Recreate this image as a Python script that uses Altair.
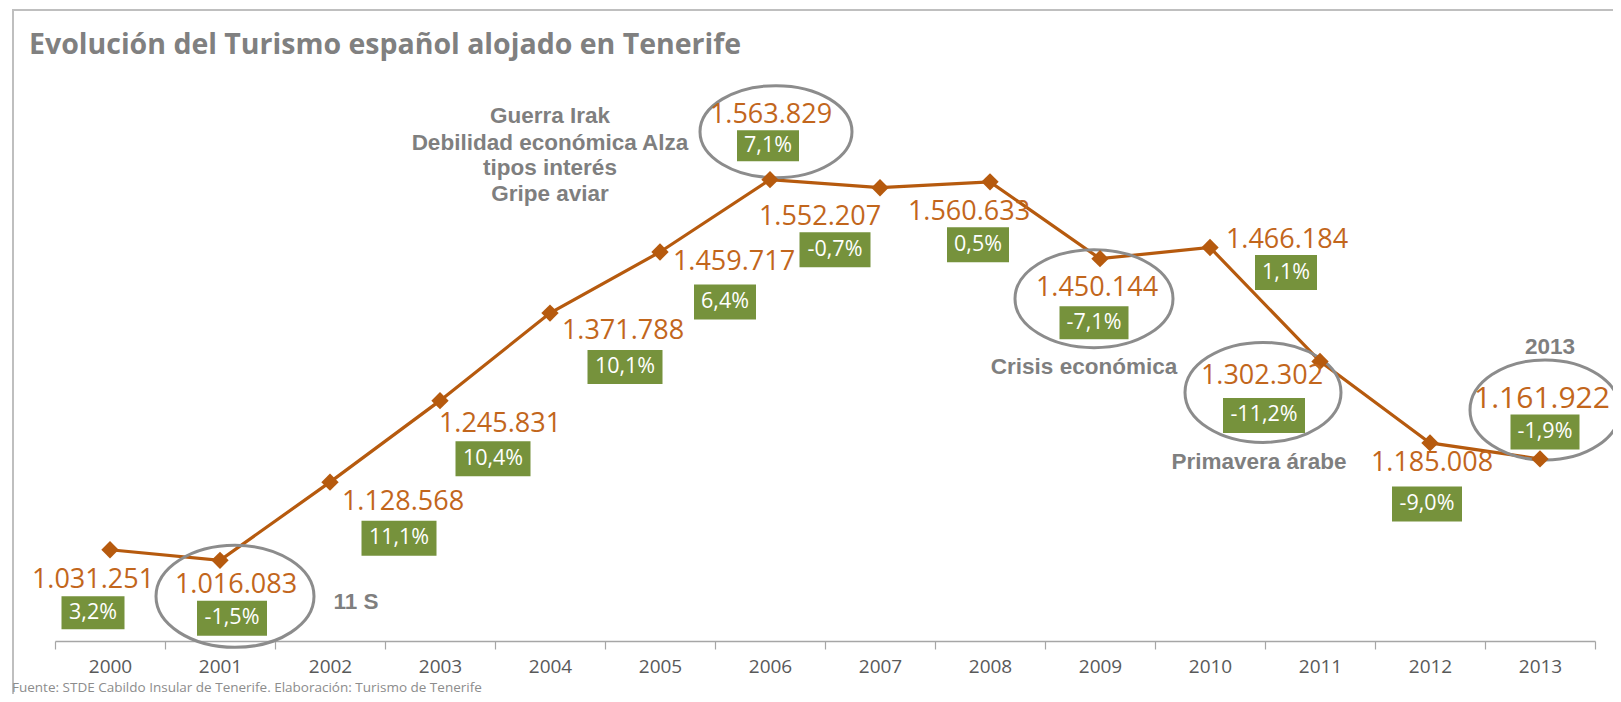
import altair as alt
import pandas as pd

# ---------------- data ----------------
years = [str(y) for y in range(2000, 2014)]
tourists = [1031251, 1016083, 1128568, 1245831, 1371788, 1459717, 1563829,
            1552207, 1560633, 1450144, 1466184, 1302302, 1185008, 1161922]
tourist_labels = ["1.031.251", "1.016.083", "1.128.568", "1.245.831", "1.371.788",
                  "1.459.717", "1.563.829", "1.552.207", "1.560.633", "1.450.144",
                  "1.466.184", "1.302.302", "1.185.008", "1.161.922"]
growth_labels = ["3,2%", "-1,5%", "11,1%", "10,4%", "10,1%", "6,4%", "7,1%",
                 "-0,7%", "0,5%", "-7,1%", "1,1%", "-11,2%", "-9,0%", "-1,9%"]

# annotations (text + the year they refer to)
note_texts = ["Guerra Irak", "Debilidad económica Alza", "tipos interés", "Gripe aviar",
              "11 S", "Crisis económica", "Primavera árabe", "2013"]
note_years = ["2006", "2006", "2006", "2006", "2001", "2009", "2011", "2013"]
circled_years = ["2001", "2006", "2009", "2011", "2013"]

# ---------------- layout (pixel offsets from each point) ----------------
num_dx = [-17, 16, 73, 60, 73, 74, 1, -60, -21, -3, 77, -58, 2, 2]
num_dy = [30, 25, 20, 23, 18, 10, -65, 29, 30, 29, -8, 15, 20, -60]
num_fs = [27] * 13 + [30]
box_dx = [-17, 12, 69, 53, 75, 65, -2, -45, -12, -6, 76, -56, -3, 5]
box_dy = [63, 58, 56, 58, 54, 50, -34, 62, 63, 64, 25, 54, 61, -27]
box_w = [63, 70, 75, 75, 75, 62, 62, 71, 62, 69, 62, 82, 70, 69]
box_h = [33, 35, 35, 35, 34, 35, 31, 35, 35, 33, 35, 35, 35, 35]
note_dx = [-220, -220, -220, -220, 136, -16, -61, 10]
note_dy = [-64, -37, -12, 14, 42, 108, 101, -112]
ell_dx = [15, 6, -6, -57, 5]
ell_dy = [36, -48, 40, 31, -49]
ell_rx = [79, 76, 79, 78, 75]
ell_ry = [51, 46, 49, 50, 50]

LINE = "#B65A0E"
ORANGE = "#C2661C"
GREEN = "#76923C"
GRAY = "#7F7F7F"


def box_path(w, h):
    a = h / w
    return f"M-1,{-a:.4f} L1,{-a:.4f} L1,{a:.4f} L-1,{a:.4f} Z"


def ellipse_path(rx, ry):
    k = 0.5523
    r = ry / rx
    return (f"M1,0 C1,{k*r:.4f} {k:.4f},{r:.4f} 0,{r:.4f} "
            f"C{-k:.4f},{r:.4f} -1,{k*r:.4f} -1,0 "
            f"C-1,{-k*r:.4f} {-k:.4f},{-r:.4f} 0,{-r:.4f} "
            f"C{k:.4f},{-r:.4f} 1,{-k*r:.4f} 1,0 Z")


def at(dxcol, dycol):
    """Position = the point's own scaled position plus a pixel offset."""
    return dict(
        x=alt.value({"expr": f"scale('x', datum.year) + bandwidth('x') / 2 + datum.{dxcol}"}),
        y=alt.value({"expr": f"scale('y', datum.value) + datum.{dycol}"}),
    )


val_by_year = dict(zip(years, tourists))

df = pd.DataFrame({
    "year": years, "value": tourists, "num": tourist_labels, "pct": growth_labels,
    "ndx": num_dx, "ndy": num_dy, "nfs": num_fs,
    "bdx": box_dx, "bdy": box_dy,
    "bshape": [box_path(w, h) for w, h in zip(box_w, box_h)],
    "bsize": [w * w for w in box_w],
})

notes = pd.DataFrame({
    "year": note_years, "value": [val_by_year[y] for y in note_years],
    "text": note_texts, "dx": note_dx, "dy": note_dy,
})

ells = pd.DataFrame({
    "year": circled_years, "value": [val_by_year[y] for y in circled_years],
    "dx": ell_dx, "dy": ell_dy,
    "shape": [ellipse_path(rx, ry) for rx, ry in zip(ell_rx, ell_ry)],
    "size": [(2 * rx) ** 2 for rx in ell_rx],
})

X = alt.X("year:N", sort=years, title=None,
          scale=alt.Scale(type="band", paddingInner=0, paddingOuter=0),
          axis=alt.Axis(labelAngle=0, tickBand="extent", tickSize=8,
                        labelFont="Open Sans", labelFontSize=19, labelColor="#595959",
                        labelPadding=8, domainColor="#A6A6A6", tickColor="#A6A6A6",
                        domainWidth=1.5, tickWidth=1.2, grid=False))
Y = alt.Y("value:Q", title=None, axis=None,
          scale=alt.Scale(domain=[900000, 1700000], zero=False, nice=False))

base = alt.Chart(df)

line = base.mark_line(color=LINE, strokeWidth=3.2).encode(x=X, y=Y)
pts = base.mark_point(shape="diamond", filled=True, size=300, color=LINE,
                      opacity=1).encode(x=X, y=Y)

ellipses = alt.Chart(ells).mark_point(filled=False, stroke="#8C8C8C", strokeWidth=3,
                                      opacity=1).encode(
    **at("dx", "dy"),
    shape=alt.Shape("shape:N", scale=None),
    size=alt.Size("size:Q", scale=None),
)

num_text = base.mark_text(font="Open Sans", color=ORANGE, baseline="middle",
                          align="center").encode(
    **at("ndx", "ndy"),
    size=alt.Size("nfs:Q", scale=None),
    text="num:N",
)

boxes = base.mark_point(filled=True, fill=GREEN, strokeWidth=0, opacity=1).encode(
    **at("bdx", "bdy"),
    shape=alt.Shape("bshape:N", scale=None),
    size=alt.Size("bsize:Q", scale=None),
)

pct_text = base.mark_text(font="Open Sans", fontSize=21.5, color="white",
                          baseline="middle", align="center").encode(
    **at("bdx", "bdy"),
    text="pct:N",
)

note_text = alt.Chart(notes).mark_text(font="Liberation Sans", fontWeight="bold",
                                       fontSize=22.5, color=GRAY, baseline="middle",
                                       align="center").encode(
    **at("dx", "dy"),
    text="text:N",
)

one = pd.DataFrame({"a": [0]})
frame = alt.Chart(one).mark_rect(fillOpacity=0, stroke="#BFBFBF", strokeWidth=2).encode(
    x=alt.value(-42), x2=alt.value(1640), y=alt.value(-75), y2=alt.value(720))

title = alt.Chart(one).mark_text(
    text="Evolución del Turismo español alojado en Tenerife",
    font="Open Sans", fontWeight="bold", fontSize=28.5, color="#808080",
    align="left", baseline="alphabetic").encode(x=alt.value(-26), y=alt.value(-31))

source = alt.Chart(one).mark_text(
    text="Fuente: STDE Cabildo Insular de Tenerife. Elaboración: Turismo de Tenerife",
    font="Open Sans", fontSize=13.5, color="#8C8C8C",
    align="left", baseline="middle").encode(x=alt.value(-43), y=alt.value(602.5))

chart = alt.layer(frame, title, source, line, ellipses, pts, boxes, pct_text,
                  num_text, note_text).properties(
    width=1540, height=556,
    autosize=alt.AutoSizeParams(type="none"),
    padding={"left": 47, "top": 77, "right": 18, "bottom": 53},
    background="white",
).configure_view(stroke=None)

chart.save("out.html", embed_options={"renderer": "svg", "actions": False})
